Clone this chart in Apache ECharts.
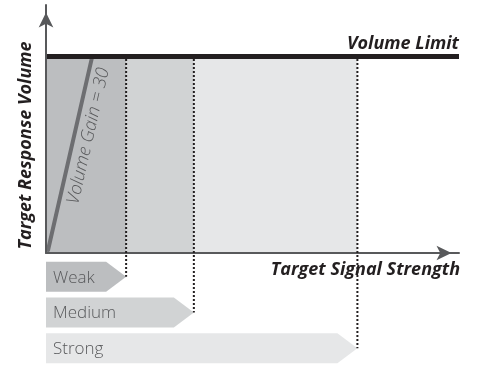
<!DOCTYPE html>
<html><head><meta charset="utf-8">
<script src="https://cdn.jsdelivr.net/npm/echarts@6/dist/echarts.min.js"></script>
<style>html,body{margin:0;padding:0;background:#fff}#c{width:494px;height:374px}</style>
</head><body><div id="c"></div>
<script>
// ---- data ----
const categories = ['Weak', 'Medium', 'Strong'];
const signalThresholds = [19.4, 35.8, 75.4];
const volumeLimit = [79.2];
const gainLineX = [0.5, 11.1];
const gainLineY = [1.2, 78.6];
const gainLabel = ['Volume Gain = 30'];
const axisTitles = ['Target Signal Strength', 'Target Response Volume'];
const limitLabel = ['Volume Limit'];

// ---- styles ----
const bandColors = ['#bcbec0', '#d1d3d4', '#e6e7e8'];
const FONT = '"Open Sans", "Noto Sans", sans-serif';
const titleStyle = { fontFamily: FONT, fontSize: 18, fontWeight: 'bold', fontStyle: 'italic', color: '#231f20' };

const chart = echarts.init(document.getElementById('c'), null, { renderer: 'canvas' });

const hidden = { axisTick: { show: false }, axisLabel: { show: false }, splitLine: { show: false } };

const option = {
  animation: false,
  grid: [
    { left: 46, right: 35, top: 5, bottom: 121 },
    { left: 46, right: 35, top: 259, bottom: 8 }
  ],
  xAxis: [
    Object.assign({
      type: 'value', min: 0, max: 100, gridIndex: 0, z: 10,
      axisLine: { show: true, onZero: false, lineStyle: { color: '#58595b', width: 2 },
        symbol: ['none', 'arrow'], symbolSize: [11, 15], symbolOffset: [0, -7.5] },
      name: axisTitles[0], nameLocation: 'end', nameGap: 1,
      nameTextStyle: Object.assign({}, titleStyle, { align: 'right', verticalAlign: 'top', padding: [8, 0, 0, 0] })
    }, hidden),
    Object.assign({ type: 'value', min: 0, max: 100, gridIndex: 1, axisLine: { show: false } }, hidden)
  ],
  yAxis: [
    Object.assign({
      type: 'value', min: 0, max: 100, gridIndex: 0, z: 10,
      axisLine: { show: true, onZero: false, lineStyle: { color: '#58595b', width: 2 },
        symbol: ['none', 'arrow'], symbolSize: [11, 15], symbolOffset: [0, -7.5] },
      name: axisTitles[1], nameLocation: 'middle', nameRotate: 90, nameGap: 11,
      nameTextStyle: Object.assign({}, titleStyle, { padding: [0, 33, 0, 0] })
    }, hidden),
    Object.assign({ type: 'category', data: categories, inverse: true, gridIndex: 1, axisLine: { show: false } }, hidden)
  ],
  series: [
    {
      type: 'custom', xAxisIndex: 0, yAxisIndex: 0, z: 1, silent: true,
      encode: { x: [0, 1], y: 2 },
      data: categories.map((c, i) => [i === 0 ? 0 : signalThresholds[i - 1], signalThresholds[i], volumeLimit[0], i]),
      renderItem(params, api) {
        const p0 = api.coord([api.value(0), api.value(2)]);
        const p1 = api.coord([api.value(1), 0]);
        return { type: 'rect', shape: { x: p0[0], y: p0[1], width: p1[0] - p0[0], height: p1[1] - p0[1] },
          style: { fill: bandColors[api.value(3)] } };
      }
    },
    {
      type: 'custom', xAxisIndex: 0, yAxisIndex: 0, z: 3, silent: true, clip: false,
      encode: { x: [0, 2], y: [1, 3] },
      data: [[gainLineX[0], gainLineY[0], gainLineX[1], gainLineY[1]]],
      renderItem(params, api) {
        const a = api.coord([api.value(0), api.value(1)]);
        const b = api.coord([api.value(2), api.value(3)]);
        const dx = b[0] - a[0], dy = b[1] - a[1];
        const len = Math.sqrt(dx * dx + dy * dy);
        const t = 0.61, off = 14;
        const cx = a[0] + dx * t + (-dy / len) * off;
        const cy = a[1] + dy * t + (dx / len) * off;
        return { type: 'group', children: [
          { type: 'line', shape: { x1: a[0], y1: a[1], x2: b[0], y2: b[1] },
            style: { stroke: '#6d6e71', lineWidth: 4, lineCap: 'round' } },
          { type: 'text', x: cx, y: cy, rotation: Math.atan2(-dy, dx),
            style: { text: gainLabel[0], fill: '#58595b', font: 'italic 300 18px ' + FONT,
              align: 'center', verticalAlign: 'middle' } }
        ] };
      }
    },
    {
      type: 'line', xAxisIndex: 0, yAxisIndex: 0, data: [], z: 4,
      markLine: {
        silent: true, symbol: ['none', 'none'],
        lineStyle: { color: '#231f20', width: 5, type: 'solid' },
        label: { show: true, position: 'insideEndTop', formatter: limitLabel[0], distance: [0, 4],
          fontFamily: FONT, fontSize: 18, fontWeight: 'bold', fontStyle: 'italic', color: '#231f20' },
        data: [{ yAxis: volumeLimit[0] }]
      }
    },
    {
      type: 'custom', xAxisIndex: 1, yAxisIndex: 1, silent: true,
      encode: { x: 0, y: 1 },
      data: categories.map((c, i) => [signalThresholds[i], i]),
      renderItem(params, api) {
        const idx = api.value(1);
        const tip = api.coord([api.value(0), idx]);
        const left = api.coord([0, idx]);
        const h = api.size([0, 1])[1] * 0.84;
        const w = 20;
        return { type: 'group', children: [
          { type: 'polygon', shape: { points: [
            [left[0], tip[1] - h / 2], [tip[0] - w, tip[1] - h / 2], [tip[0], tip[1]],
            [tip[0] - w, tip[1] + h / 2], [left[0], tip[1] + h / 2]] },
            style: { fill: bandColors[idx] } },
          { type: 'text', x: left[0] + 7, y: tip[1] + 1,
            style: { text: categories[idx], fill: '#58595b', font: '300 17px ' + FONT,
              align: 'left', verticalAlign: 'middle' } }
        ] };
      }
    }
  ]
};
chart.setOption(option);

// dotted guide lines from the volume limit down to each label tip
const guides = signalThresholds.map((v, i) => {
  const top = chart.convertToPixel({ gridIndex: 0 }, [v, volumeLimit[0]]);
  const tip = chart.convertToPixel({ gridIndex: 1 }, [v, categories[i]]);
  return { type: 'line', z: 20, silent: true,
    shape: { x1: top[0], y1: top[1] + 2.5, x2: tip[0], y2: tip[1] },
    style: { stroke: '#231f20', lineWidth: 2, lineDash: [2, 2] } };
});
chart.setOption({ graphic: guides });
</script></body></html>
